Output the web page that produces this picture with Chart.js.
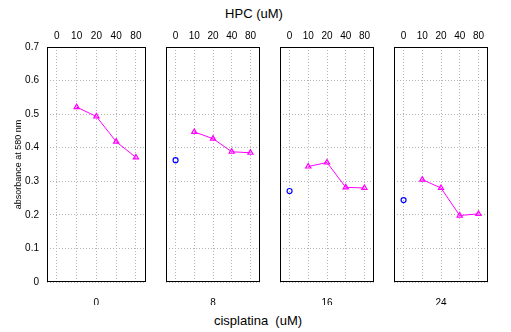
<!DOCTYPE html>
<html>
<head>
<meta charset="UTF-8">
<script src="https://cdn.jsdelivr.net/npm/chart.js@4.4.0/dist/chart.umd.min.js"></script>
<style>
    body { margin: 0; background: #fff; font-family: 'Liberation Sans', Arial, sans-serif; }
    .stage { position: relative; width: 511px; height: 332px; overflow: hidden; }
    .panel { position: absolute; top: 25px; height: 280px; }
    .label { position: absolute; font-size: 13px; color: #000; white-space: pre; transform: translate(-50%, -50%); }
</style>
</head>
<body>
<div class="stage">
    <div class="label" style="left:254px; top:13px;">HPC (uM)</div>
    <div class="panel" style="left:0px; width:151px;"><canvas id="p0"></canvas></div>
    <div class="panel" style="left:161px; width:104px;"><canvas id="p1"></canvas></div>
    <div class="panel" style="left:275px; width:104px;"><canvas id="p2"></canvas></div>
    <div class="panel" style="left:389px; width:104px;"><canvas id="p3"></canvas></div>
    <div class="label" style="left:258px; top:320px;">cisplatina  (uM)</div>
</div>
<script>
    // HPC doses (top axis of every panel) and cisplatina doses (one per panel)
    const hpc = ['0', '10', '20', '40', '80'];
    const cisplatina = ['0', '8', '16', '24'];
    const yTicks = [0, 0.1, 0.2, 0.3, 0.4, 0.5, 0.6, 0.7];

    // absorbance without HPC (blue circles); none visible in the first panel
    const control = [null, 0.363, 0.271, 0.244];
    // absorbance with HPC 10, 20, 40, 80 (magenta triangles)
    const hpc10 = [0.521, 0.447, 0.344, 0.305];
    const hpc20 = [0.493, 0.427, 0.356, 0.280];
    const hpc40 = [0.418, 0.388, 0.282, 0.198];
    const hpc80 = [0.371, 0.385, 0.280, 0.203];

    const tickFont = { family: "'Liberation Sans', Arial, sans-serif", size: 10 };
    const gridColor = '#b4b4b4';

    // box around each panel
    const frame = {
        id: 'frame',
        afterDraw(chart) {
            const a = chart.chartArea, c = chart.ctx;
            c.save();
            c.strokeStyle = '#000';
            c.lineWidth = 1;
            const l = Math.round(a.left) + 0.5, t = Math.round(a.top) + 0.5;
            const r = Math.round(a.right) - 0.5, b = Math.round(a.bottom) - 0.5;
            c.strokeRect(l, t, r - l, b - t);
            c.restore();
        }
    };

    for (let i = 0; i < cisplatina.length; i++) {
        const first = i === 0;
        new Chart(document.getElementById('p' + i), {
            type: 'line',
            data: {
                labels: hpc,
                datasets: [{
                    data: [control[i], null, null, null, null],
                    showLine: false,
                    pointStyle: 'circle',
                    pointRadius: 2.5,
                    pointBorderColor: '#0000ff',
                    pointBackgroundColor: 'rgba(0,0,0,0)',
                    pointBorderWidth: 1.2
                }, {
                    data: [null, hpc10[i], hpc20[i], hpc40[i], hpc80[i]],
                    borderColor: '#ff00ff',
                    borderWidth: 1,
                    pointStyle: 'triangle',
                    pointRadius: 3,
                    pointBorderColor: '#ff00ff',
                    pointBackgroundColor: 'rgba(0,0,0,0)',
                    pointBorderWidth: 1.2,
                    tension: 0
                }]
            },
            options: {
                responsive: true,
                maintainAspectRatio: false,
                animation: false,
                layout: { padding: 0 },
                plugins: { legend: { display: false }, tooltip: { enabled: false } },
                scales: {
                    x: {
                        type: 'category',
                        position: 'top',
                        offset: true,
                        grid: { offset: false, color: gridColor, drawTicks: false },
                        border: { display: false, dash: [1, 2] },
                        ticks: { font: tickFont, color: '#000', padding: 5, maxRotation: 0 },
                        afterFit: s => { s.height = 22; }
                    },
                    xb: {
                        type: 'category',
                        labels: [cisplatina[i]],
                        position: 'bottom',
                        offset: true,
                        grid: { display: false },
                        border: { display: false },
                        ticks: { font: tickFont, color: '#000', padding: 7 },
                        afterFit: s => { s.height = 23; }
                    },
                    y: {
                        min: 0,
                        max: 0.7,
                        afterBuildTicks: s => { s.ticks = yTicks.map(v => ({ value: v })); },
                        grid: { color: gridColor, drawTicks: false },
                        border: { display: false, dash: [1, 2] },
                        ticks: {
                            display: first,
                            font: tickFont,
                            color: '#000',
                            padding: 8,
                            callback: v => String(+v.toFixed(1))
                        },
                        title: {
                            display: first,
                            text: 'absorbance at 580 nm',
                            font: { family: tickFont.family, size: 9 },
                            color: '#000',
                            padding: { top: 13, bottom: 0 }
                        },
                        afterFit: s => { s.width = first ? 47 : 0; }
                    }
                }
            },
            plugins: [frame]
        });
    }
</script>
</body>
</html>
